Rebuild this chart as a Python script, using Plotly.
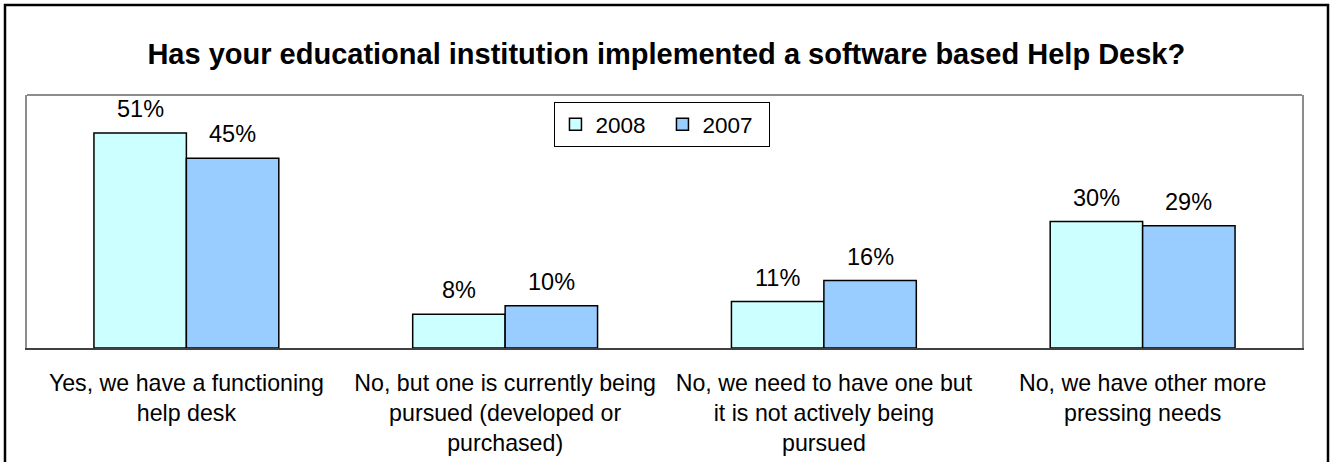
import plotly.graph_objects as go

categories = [
    "Yes, we have a functioning<br>help desk",
    "No, but one is currently being<br>pursued (developed or<br>purchased)",
    "No, we need to have one but<br>it is not actively being<br>pursued",
    "No, we have other more<br>pressing needs",
]
series_names = ["2008", "2007"]
values_2008 = [51, 8, 11, 30]
values_2007 = [45, 10, 16, 29]
series_values = [values_2008, values_2007]
series_colors = ["#CCFFFF", "#99CCFF"]

FONT = "Arial, 'Liberation Sans', sans-serif"
BAR_GAP = 0.42

fig = go.Figure()
for name, vals, color in zip(series_names, series_values, series_colors):
    fig.add_trace(go.Bar(
        name=name,
        x=list(range(len(categories))),
        y=vals,
        marker=dict(color=color, line=dict(color="#000000", width=1.5)),
    ))

# value labels above each bar, offset to the bar centre within its group
bar_w = (1 - BAR_GAP) / len(series_names)
annotations = []
for s, vals in enumerate(series_values):
    offset = (s - (len(series_names) - 1) / 2) * bar_w
    for i, v in enumerate(vals):
        annotations.append(dict(
            x=i + offset, y=v, xref="x", yref="y",
            text=f"{v}%", showarrow=False,
            yanchor="bottom", yshift=9,
            font=dict(family=FONT, size=23.5, color="#000000"),
        ))

fig.update_layout(
    width=1330, height=462,
    margin=dict(l=27, r=28, t=95, b=114, autoexpand=False),
    paper_bgcolor="#FFFFFF", plot_bgcolor="#FFFFFF",
    barmode="group", bargap=BAR_GAP, bargroupgap=0,
    title=dict(
        text="<b>Has your educational institution implemented a software based Help Desk?</b>",
        x=0.501, xanchor="center", y=1 - 54 / 462, yanchor="middle",
        font=dict(family=FONT, size=29, color="#000000"),
    ),
    legend=dict(
        orientation="h", x=0.4984, xanchor="center", y=0.972, yanchor="top",
        bordercolor="#000000", borderwidth=1, bgcolor="#FFFFFF",
        font=dict(family=FONT, size=22.5, color="#000000"),
        itemwidth=30, entrywidth=62, entrywidthmode="pixels",
    ),
    annotations=annotations,
    showlegend=True,
)

fig.update_xaxes(
    tickmode="array", tickvals=list(range(len(categories))), ticktext=categories,
    range=[-0.5, len(categories) - 0.5],
    showline=True, linecolor="#404040", linewidth=2,
    ticks="outside", ticklen=13, tickcolor="rgba(0,0,0,0)",
    tickfont=dict(family=FONT, size=23.2, color="#000000"),
    showgrid=False, zeroline=False, automargin=False,
)
fig.update_yaxes(
    range=[0, 60], showticklabels=False, ticks="",
    showline=True, mirror=True, linecolor="#8C8C8C", linewidth=2,
    showgrid=False, zeroline=False, automargin=False,
)

# top edge of the plot frame in grey
fig.add_shape(type="line", xref="paper", yref="paper", x0=0, x1=1, y0=1, y1=1,
              line=dict(color="#8C8C8C", width=2))
# outer chart border
fig.add_shape(type="rect", xref="paper", yref="paper",
              x0=(5 - 27) / 1275, x1=(1328 - 27) / 1275,
              y0=(348 - 480) / 253, y1=(348 - 5) / 253,
              line=dict(color="#000000", width=2.5), fillcolor="rgba(0,0,0,0)")

fig.write_html("out.html")
